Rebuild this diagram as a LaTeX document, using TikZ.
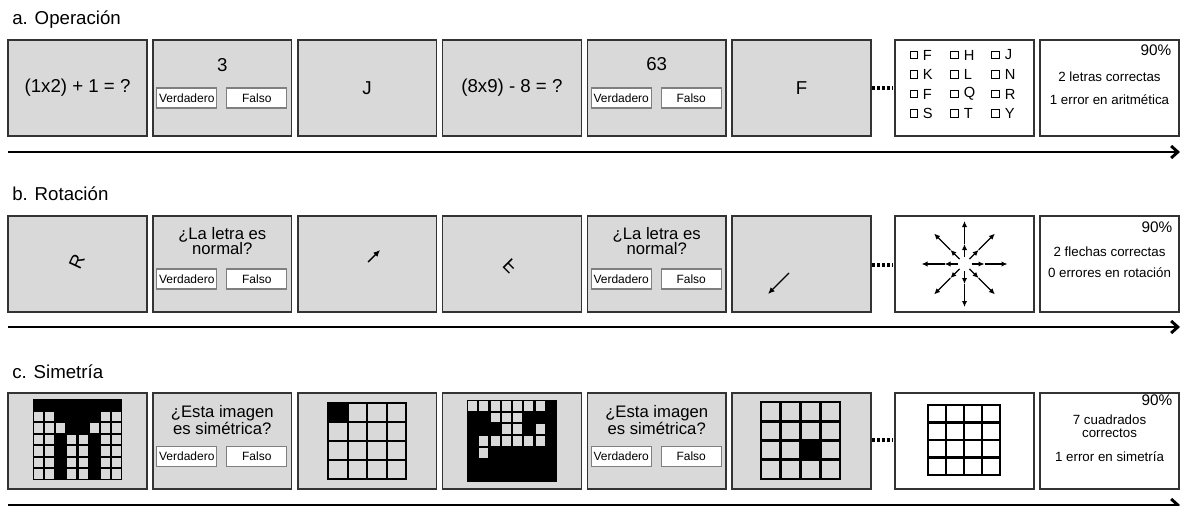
\documentclass[tikz,border=0pt]{standalone}
\usepackage{fontspec}
\setmainfont{Liberation Sans}
\usetikzlibrary{arrows.meta}
\definecolor{screenfill}{HTML}{D9D9D9}
\definecolor{screenframe}{HTML}{333333}
\definecolor{buttonframe}{HTML}{7F7F7F}
\begin{document}
\begin{tikzpicture}[
    x=0.75pt, y=-0.75pt,
    screen/.style={draw=screenframe, fill=screenfill, line width=1.1pt, minimum width=104pt, minimum height=72pt, inner sep=0pt, font=\fontsize{14}{16}\selectfont},
    result/.style={screen, fill=white},
    button/.style={draw=buttonframe, fill=white, line width=1pt, minimum width=45pt, minimum height=15pt, inner sep=0pt, font=\fontsize{9}{10}\selectfont},
    question/.style={align=center, inner sep=0pt, font=\fontsize{12.5}{11.5}\selectfont},
    title/.style={anchor=base west, inner sep=0pt, font=\fontsize{14}{16}\selectfont},
    timeline/.style={line width=2.2pt, -{Straight Barb[length=5pt, width=9pt]}},
    ellipsis/.style={line width=2.4pt, dash pattern=on 2pt off 1.8pt},
    tick/.style={line width=1pt, -{Latex[length=4.5pt, width=4pt]}},
    checkbox/.style={draw, line width=0.8pt, minimum size=5.5pt, inner sep=0pt},
    letter/.style={anchor=west, inner sep=0pt, font=\fontsize{11}{12}\selectfont},
    score/.style={align=center, inner sep=0pt, font=\fontsize{10}{10}\selectfont},
    percent/.style={anchor=north east, inner sep=0pt, font=\fontsize{11.5}{12}\selectfont},
    thingrid/.style={line width=1.5pt, line cap=rect},
    thickgrid/.style={line width=2.2pt, line cap=rect}
]
  \useasboundingbox (0,0) rectangle (1181,506);

  % 1. Operacion
  \node[title] (titleA) at (12,25) {a. Operación};
  \node[screen] (a1) at (77.5,88) {(1x2) + 1 = ?};
  \node[screen] (a2) at (222.3,88) {};
  \node[screen] (a3) at (367.1,88) {J};
  \node[screen] (a4) at (511.9,88) {(8x9) - 8 = ?};
  \node[screen] (a5) at (656.7,88) {};
  \node[screen] (a6) at (801.5,88) {F};
  \node[result] (a7) at (964.5,88) {};
  \node[result] (a8) at (1109.5,88) {};

  \begin{scope}[shift={(a2.center)}]
    \node[font=\fontsize{14}{16}\selectfont] (a2num) at (0,-23) {3};
    \node[button] (a2yes) at (-35.5,10) {Verdadero};
    \node[button] (a2no) at (34.5,10) {Falso};
  \end{scope}
  \begin{scope}[shift={(a5.center)}]
    \node[font=\fontsize{14}{16}\selectfont] (a5num) at (0,-24) {63};
    \node[button] (a5yes) at (-35.5,10) {Verdadero};
    \node[button] (a5no) at (34.5,10) {Falso};
  \end{scope}

  \coordinate (dotsA1) at (872,88);
  \coordinate (dotsA2) at (893,88);
  \draw[ellipsis] (dotsA1) -- (dotsA2);

  % Letter recall grid
  \foreach \row/\y in {1/55,2/74.5,3/94,4/113.5}{
    \foreach \col/\x in {1/913.7,2/954.5,3/995.5}{
      \node[checkbox] (box\row\col) at (\x,\y) {};
    }
  }
  \foreach \row/\la/\lb/\lc [count=\y from 0] in {1/F/H/J,2/K/L/N,3/F/Q/R,4/S/T/Y}{
    \node[letter] (let\row a) at (922.5,55+\y*19.5) {\la};
    \node[letter] (let\row b) at (963.5,55+\y*19.5) {\lb};
    \node[letter] (let\row c) at (1004.5,55+\y*19.5) {\lc};
  }

  \node[percent] (a8pct) at ([shift={(-8,5)}]a8.north east) {90\%};
  \node[score] (a8ok) at (1109.5,77) {2 letras correctas};
  \node[score] (a8err) at (1109.5,100) {1 error en aritmética};

  \coordinate (startA) at (8,152);
  \coordinate (endA) at (1180,152);
  \draw[timeline] (startA) -- (endA);

  % 2. Rotacion
  \node[title] (titleB) at (12,200) {b. Rotación};
  \node[screen] (b1) at (77.5,264) {};
  \node[screen] (b2) at (222.3,264) {};
  \node[screen] (b3) at (367.1,264) {};
  \node[screen] (b4) at (511.9,264) {};
  \node[screen] (b5) at (656.7,264) {};
  \node[screen] (b6) at (801.5,264) {};
  \node[result] (b7) at (964.5,264) {};
  \node[result] (b8) at (1109.5,264) {};

  \node[rotate=65, font=\fontsize{14}{16}\selectfont] (b1let) at (77,262) {R};
  \begin{scope}[shift={(b2.center)}]
    \node[question] (b2ask) at (0,-23) {¿La letra es\\normal?};
    \node[button] (b2yes) at (-35.5,15) {Verdadero};
    \node[button] (b2no) at (34.5,15) {Falso};
  \end{scope}
  \begin{scope}[shift={(b3.center)}]
    \coordinate (b3tail) at (1,-2);
    \coordinate (b3head) at (13,-14);
    \draw[line width=1.1pt, -{Latex[length=5pt, width=4.5pt]}] (b3tail) -- (b3head);
  \end{scope}
  \node[rotate=135, xscale=-1, font=\fontsize{14}{16}\selectfont] (b4let) at (510,266) {F};
  \begin{scope}[shift={(b5.center)}]
    \node[question] (b5ask) at (0,-23) {¿La letra es\\normal?};
    \node[button] (b5yes) at (-35.5,15) {Verdadero};
    \node[button] (b5no) at (34.5,15) {Falso};
  \end{scope}
  \begin{scope}[shift={(b6.center)}]
    \coordinate (b6tail) at (-12.5,9);
    \coordinate (b6head) at (-33.5,30);
    \draw[line width=1pt, -{Latex[length=5pt, width=4.5pt]}] (b6tail) -- (b6head);
  \end{scope}

  \coordinate (dotsB1) at (872,265);
  \coordinate (dotsB2) at (893,265);
  \draw[ellipsis] (dotsB1) -- (dotsB2);

  % Arrow recall star
  \begin{scope}[shift={(b7.center)}]
    \foreach \a in {0,45,...,315}{
      \draw[tick] (\a:7) -- (\a:20);
      \draw[tick] (\a:20) -- (\a:43);
    }
  \end{scope}

  \node[percent] (b8pct) at ([shift={(-7,6)}]b8.north east) {90\%};
  \node[score] (b8ok) at (1109.5,252) {2 flechas correctas};
  \node[score] (b8err) at (1109.5,273) {0 errores en rotación};

  \coordinate (startB) at (8,327);
  \coordinate (endB) at (1180,327);
  \draw[timeline] (startB) -- (endB);

  % 3. Simetria
  \node[title] (titleC) at (12,378) {c. Simetría};
  \node[screen] (c1) at (77.5,441) {};
  \node[screen] (c2) at (222.3,441) {};
  \node[screen] (c3) at (367.1,441) {};
  \node[screen] (c4) at (511.9,441) {};
  \node[screen] (c5) at (656.7,441) {};
  \node[screen] (c6) at (801.5,441) {};
  \node[result] (c7) at (964.5,441) {};
  \node[result] (c8) at (1109.5,441) {};

  % symmetric pattern
  \begin{scope}[shift={(33,399)}]
    \fill[black] (0,0) rectangle (89,81);
    \foreach \r in {2,...,7}{
      \foreach \c in {1,2,7,8}{
        \fill[screenfill] ({(\c-1)*11.125+1},{(\r-1)*11.57+1}) rectangle ++(9.1,9.6);
      }
    }
    \foreach \c/\r in {3/3,6/3,4/4,5/4,4/5,5/5,4/6,5/6,4/7,5/7}{
      \fill[screenfill] ({(\c-1)*11.125+1},{(\r-1)*11.57+1}) rectangle ++(9.1,9.6);
    }
  \end{scope}
  \begin{scope}[shift={(c2.center)}]
    \node[question] (c2ask) at (0,-21) {¿Esta imagen\\es simétrica?};
    \node[button] (c2yes) at (-35.5,15.5) {Verdadero};
    \node[button] (c2no) at (34.5,15.5) {Falso};
  \end{scope}
  % first square to remember
  \begin{scope}[shift={(328,403)}]
    \fill[black] (0,0) rectangle (19.5,19);
    \foreach \i in {0,...,4}{
      \draw[thingrid] (\i*19.5,0) -- (\i*19.5,76);
      \draw[thingrid] (0,\i*19) -- (78,\i*19);
    }
  \end{scope}
  % non symmetric pattern
  \begin{scope}[shift={(467,400)}]
    \fill[black] (0,0) rectangle (90,82);
    \foreach \c/\r in {1/1,2/1,3/1,4/1,5/1,6/1,7/1,3/2,4/2,5/2,4/3,5/3,7/3,2/4,3/4,4/4,5/4,6/4,7/4,2/5}{
      \fill[screenfill] ({(\c-1)*11.25+1},{(\r-1)*11.71+1}) rectangle ++(9.2,9.7);
    }
  \end{scope}
  \begin{scope}[shift={(c5.center)}]
    \node[question] (c5ask) at (0,-21) {¿Esta imagen\\es simétrica?};
    \node[button] (c5yes) at (-35.5,15.5) {Verdadero};
    \node[button] (c5no) at (34.5,15.5) {Falso};
  \end{scope}
  % second square to remember
  \begin{scope}[shift={(761,402)}]
    \fill[black] (39.5,38.5) rectangle (59.25,57.75);
    \foreach \i in {0,...,4}{
      \draw[thickgrid] (\i*19.75,0) -- (\i*19.75,77);
      \draw[thickgrid] (0,\i*19.25) -- (79,\i*19.25);
    }
  \end{scope}

  \coordinate (dotsC1) at (872,440);
  \coordinate (dotsC2) at (893,440);
  \draw[ellipsis] (dotsC1) -- (dotsC2);

  % Square recall grid
  \begin{scope}[shift={(928,405)}]
    \foreach \i in {0,...,4}{
      \draw[thickgrid] (\i*18,0) -- (\i*18,70);
      \draw[thickgrid] (0,\i*17.5) -- (72,\i*17.5);
    }
  \end{scope}

  \node[percent] (c8pct) at ([shift={(-7,2.5)}]c8.north east) {90\%};
  \node[score] (c8ok) at (1109.5,426) {7 cuadrados\\correctos};
  \node[score] (c8err) at (1109.5,457) {1 error en simetría};

  \coordinate (startC) at (8,505);
  \coordinate (endC) at (1180,505);
  \draw[timeline] (startC) -- (endC);

\end{tikzpicture}
\end{document}
